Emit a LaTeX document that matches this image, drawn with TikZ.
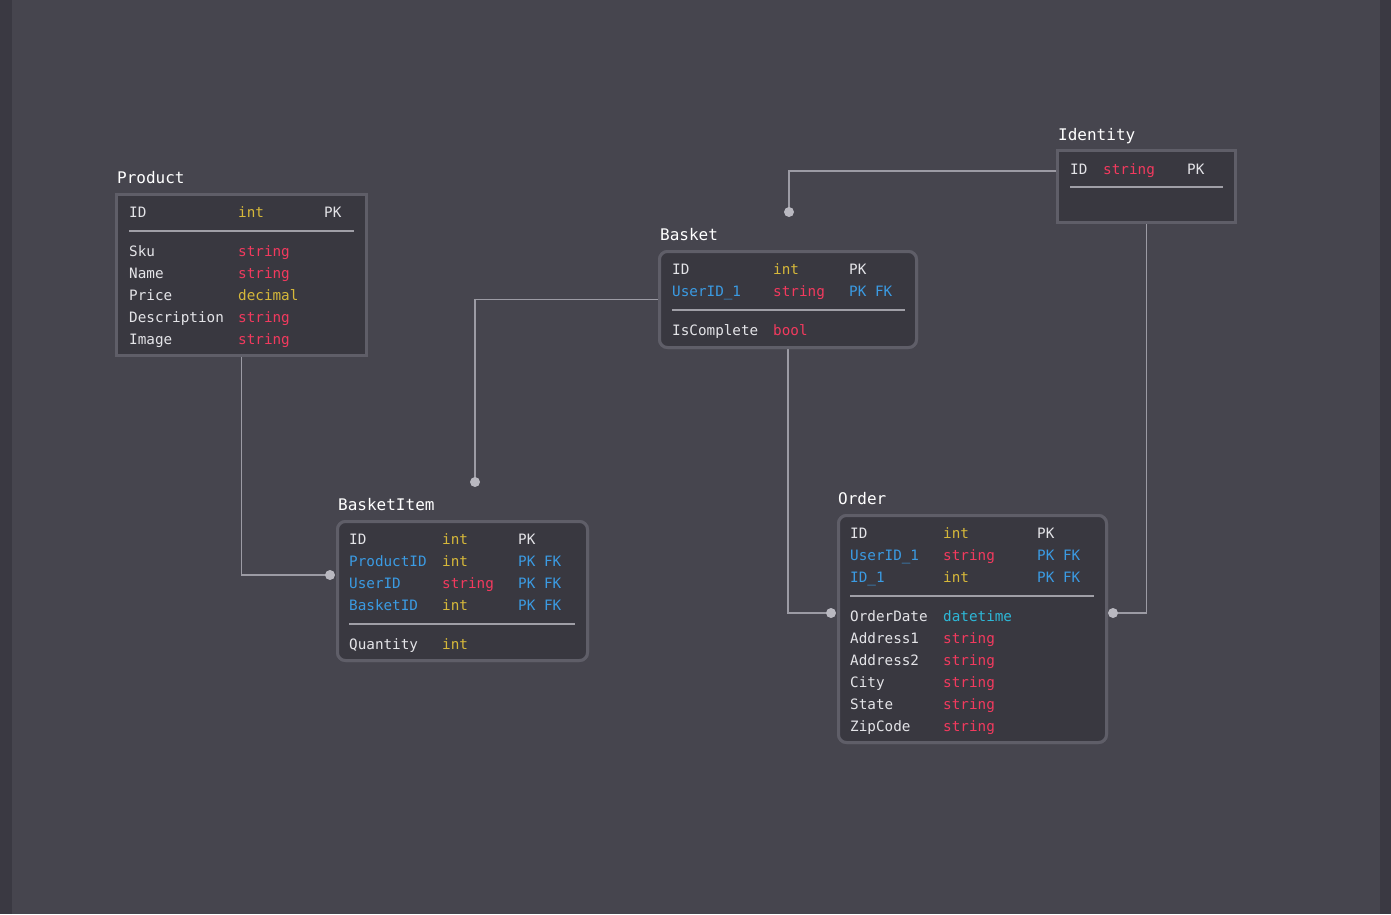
\documentclass[tikz,border=0pt]{standalone}
\usepackage{fontspec}
\setmonofont{DejaVu Sans Mono}
\definecolor{bgc}{HTML}{46454E}
\definecolor{stripc}{HTML}{3A3942}
\definecolor{tablec}{HTML}{393840}
\definecolor{borderc}{HTML}{5F5E68}
\definecolor{sepc}{HTML}{A09FA7}
\definecolor{connc}{HTML}{9C9BA4}
\definecolor{dotc}{HTML}{B9B8C0}
\definecolor{txtc}{HTML}{E4E4E8}
\definecolor{yelc}{HTML}{D6B83A}
\definecolor{redc}{HTML}{F23A5E}
\definecolor{bluc}{HTML}{3B9BE3}
\definecolor{cyac}{HTML}{2DB8D8}
\tikzset{
  sqbox/.style={draw=borderc, fill=tablec, line width=3pt, anchor=north west, inner sep=0pt, outer sep=0pt},
  rdbox/.style={sqbox, rounded corners=8pt},
  title/.style={anchor=base west, inner sep=0pt, text=white, font=\ttfamily\fontsize{16}{18}\selectfont},
  cell/.style={anchor=base west, inner sep=0pt, text=txtc, font=\ttfamily\fontsize{14.3}{16}\selectfont},
  ty/.style={cell, text=yelc},
  tr/.style={cell, text=redc},
  tb/.style={cell, text=bluc},
  tc/.style={cell, text=cyac},
  sep/.style={draw=sepc, line width=2pt},
  conn/.style={draw=connc, line width=1.6pt},
  dot/.style={circle, fill=dotc, inner sep=0pt, minimum size=10pt}
}
\begin{document}
\begin{tikzpicture}[x=1pt, y=-1pt]
% canvas and side strips
\fill[bgc] (0,0) rectangle (1391,914);
\fill[stripc] (0,0) rectangle (12,914);
\fill[stripc] (1380,0) rectangle (1391,914);
\useasboundingbox (0,0) rectangle (1391,914);

% connector end points
\coordinate (d1) at (330,575);
\coordinate (d2) at (475,482);
\coordinate (d3) at (789,212);
\coordinate (d4) at (831,613);
\coordinate (d5) at (1113,613);

% table frames (placed first so the relations can refer to them)
\node[sqbox, minimum width=250, minimum height=161] (product) at (116.5,194.5) {};
\node[rdbox, minimum width=257, minimum height=96] (basket) at (659.5,251.5) {};
\node[sqbox, minimum width=178, minimum height=72] (identity) at (1057.5,150.5) {};
\node[rdbox, minimum width=250, minimum height=139] (basketitem) at (337.5,521.5) {};
\node[rdbox, minimum width=268, minimum height=227] (order) at (838.5,515.5) {};

% relations
\draw[conn] (product.south) |- (d1);
\draw[conn] (d2) |- (basket.west);
\draw[conn] ([yshift=15.5pt]identity.west) -| (d3);
\draw[conn] (basket.south) |- (d4);
\draw[conn] (identity.south) |- (d5);

% frames again, over the line ends
\node[sqbox, minimum width=250, minimum height=161] at (116.5,194.5) {};
\node[rdbox, minimum width=257, minimum height=96] at (659.5,251.5) {};
\node[sqbox, minimum width=178, minimum height=72] at (1057.5,150.5) {};
\node[rdbox, minimum width=250, minimum height=139] at (337.5,521.5) {};
\node[rdbox, minimum width=268, minimum height=227] at (838.5,515.5) {};

\node[dot] (e1) at (d1) {};
\node[dot] (e2) at (d2) {};
\node[dot] (e3) at (d3) {};
\node[dot] (e4) at (d4) {};
\node[dot] (e5) at (d5) {};

% Product
\node[title] (tp) at (117,183) {Product};
\node[cell] (p1) at (129,217) {ID};
\node[ty] (p1t) at (238,217) {int};
\node[cell] (p1k) at (324,217) {PK};
\draw[sep] (129,231) -- (354,231);
\node[cell] (p2) at (129,256) {Sku};          \node[tr] (p2t) at (238,256) {string};
\node[cell] (p3) at (129,278) {Name};         \node[tr] (p3t) at (238,278) {string};
\node[cell] (p4) at (129,300) {Price};        \node[ty] (p4t) at (238,300) {decimal};
\node[cell] (p5) at (129,322) {Description};  \node[tr] (p5t) at (238,322) {string};
\node[cell] (p6) at (129,344) {Image};        \node[tr] (p6t) at (238,344) {string};

% Basket
\node[title] (tb) at (660,240) {Basket};
\node[cell] (b1) at (672,274) {ID};
\node[ty] (b1t) at (773,274) {int};
\node[cell] (b1k) at (849,274) {PK};
\node[tb] (b2) at (672,296) {UserID\_1};
\node[tr] (b2t) at (773,296) {string};
\node[tb] (b2k) at (849,296) {PK FK};
\draw[sep] (672,310) -- (905,310);
\node[cell] (b3) at (672,335) {IsComplete};
\node[tr] (b3t) at (773,335) {bool};

% Identity
\node[title] (ti) at (1058,140) {Identity};
\node[cell] (i1) at (1070,174) {ID};
\node[tr] (i1t) at (1103,174) {string};
\node[cell] (i1k) at (1187,174) {PK};
\draw[sep] (1070,187) -- (1223,187);

% BasketItem
\node[title] (tbi) at (338,510) {BasketItem};
\node[cell] (q1) at (349,544) {ID};
\node[ty] (q1t) at (442,544) {int};
\node[cell] (q1k) at (518,544) {PK};
\node[tb] (q2) at (349,566) {ProductID};
\node[ty] (q2t) at (442,566) {int};
\node[tb] (q2k) at (518,566) {PK FK};
\node[tb] (q3) at (349,588) {UserID};
\node[tr] (q3t) at (442,588) {string};
\node[tb] (q3k) at (518,588) {PK FK};
\node[tb] (q4) at (349,610) {BasketID};
\node[ty] (q4t) at (442,610) {int};
\node[tb] (q4k) at (518,610) {PK FK};
\draw[sep] (349,624) -- (575,624);
\node[cell] (q5) at (349,649) {Quantity};
\node[ty] (q5t) at (442,649) {int};

% Order
\node[title] (to) at (838,504) {Order};
\node[cell] (o1) at (850,538) {ID};
\node[ty] (o1t) at (943,538) {int};
\node[cell] (o1k) at (1037,538) {PK};
\node[tb] (o2) at (850,560) {UserID\_1};
\node[tr] (o2t) at (943,560) {string};
\node[tb] (o2k) at (1037,560) {PK FK};
\node[tb] (o3) at (850,582) {ID\_1};
\node[ty] (o3t) at (943,582) {int};
\node[tb] (o3k) at (1037,582) {PK FK};
\draw[sep] (850,596) -- (1094,596);
\node[cell] (o4) at (850,621) {OrderDate};  \node[tc] (o4t) at (943,621) {datetime};
\node[cell] (o5) at (850,643) {Address1};   \node[tr] (o5t) at (943,643) {string};
\node[cell] (o6) at (850,665) {Address2};   \node[tr] (o6t) at (943,665) {string};
\node[cell] (o7) at (850,687) {City};       \node[tr] (o7t) at (943,687) {string};
\node[cell] (o8) at (850,709) {State};      \node[tr] (o8t) at (943,709) {string};
\node[cell] (o9) at (850,731) {ZipCode};    \node[tr] (o9t) at (943,731) {string};
\end{tikzpicture}
\end{document}
